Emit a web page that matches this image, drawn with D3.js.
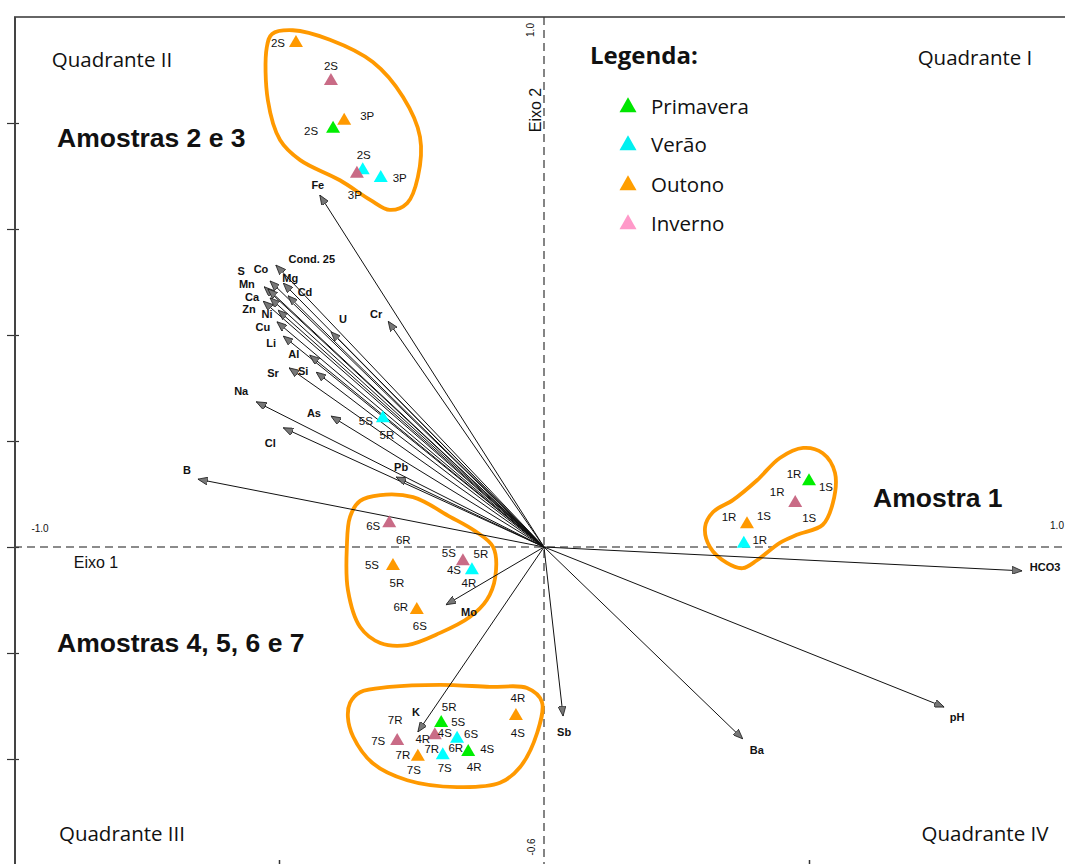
<!DOCTYPE html>
<html>
<head>
<meta charset="utf-8">
<script src="https://cdn.jsdelivr.net/npm/d3@7/dist/d3.min.js"></script>
<style>
  html, body { margin: 0; padding: 0; background: #fff; }
  svg { display: block; }
</style>
</head>
<body>
<svg id="chart" width="1065" height="864"></svg>
<script>
// ---- Data -------------------------------------------------------------
// Seasons (legend order)
const seasons = ["Primavera", "Verão", "Outono", "Inverno"];

// Variable loadings on Eixo 1 / Eixo 2
const variables = ["Fe", "Cond. 25", "Co", "Mg", "S", "Mn", "Cd", "Ca", "Zn", "Ni", "Cu", "Li",
  "Al", "Sr", "Si", "Na", "As", "Cl", "B", "U", "Cr", "Pb", "Mo", "K", "Sb", "Ba", "pH", "HCO3"];
const loadX = [-0.423, -0.506, -0.517, -0.492, -0.528, -0.521, -0.483, -0.530, -0.517, -0.502, -0.504, -0.492,
  -0.442, -0.481, -0.430, -0.543, -0.402, -0.492, -0.653, -0.402, -0.294, -0.279, -0.185, -0.238, 0.036, 0.375, 0.755, 0.902];
const loadY = [0.664, 0.532, 0.502, 0.498, 0.491, 0.487, 0.474, 0.464, 0.470, 0.447, 0.425, 0.398,
  0.362, 0.338, 0.330, 0.274, 0.247, 0.225, 0.128, 0.406, 0.426, 0.132, -0.109, -0.349, -0.319, -0.362, -0.302, -0.045];

// Sample scores (season index into `seasons`)
const sampleSeason = [2, 3, 2, 0, 1, 3, 1,
  1, 3, 3, 1, 2, 2,
  0, 3, 2, 1,
  2, 0, 3, 3, 1, 0, 1, 2];
const sampleX = [-0.468, -0.402, -0.377, -0.398, -0.342, -0.353, -0.308,
  -0.304, -0.292, -0.153, -0.136, -0.285, -0.240,
  0.500, 0.474, 0.383, 0.377,
  -0.053, -0.194, -0.206, -0.277, -0.164, -0.143, -0.191, -0.238];
const sampleY = [0.953, 0.881, 0.806, 0.791, 0.713, 0.706, 0.698,
  0.245, 0.047, -0.025, -0.042, -0.034, -0.117,
  0.126, 0.085, 0.045, 0.008,
  -0.317, -0.330, -0.353, -0.364, -0.360, -0.385, -0.391, -0.394];
// Sample codes written next to each score
const sampleTags = [["2S"], ["2S"], ["3P"], ["2S"], ["2S"], ["3P"], ["3P"],
  ["5S", "5R"], ["6S", "6R"], ["5S", "5R"], ["4S", "4R"], ["5S", "5R"], ["6R", "6S"],
  ["1R", "1S"], ["1R", "1S"], ["1R", "1S"], ["1R"],
  ["4R", "4S"], ["5R", "5S"], ["4S", "4R"], ["7R", "7S"], ["6S"], ["4S", "4R"], ["7R", "6R", "7S"], ["7R", "7S"]];

// Group outlines (closed curves in Eixo 1 / Eixo 2 units)
const hullTop = [[-0.523, 0.943], [-0.513, 0.968], [-0.474, 0.975], [-0.404, 0.957], [-0.323, 0.915],
  [-0.266, 0.849], [-0.234, 0.774], [-0.238, 0.698], [-0.258, 0.649], [-0.291, 0.636], [-0.328, 0.655],
  [-0.385, 0.692], [-0.460, 0.730], [-0.498, 0.768], [-0.521, 0.843]];
const hullMid = [[-0.366, 0.057], [-0.347, 0.087], [-0.309, 0.098], [-0.247, 0.094], [-0.177, 0.057],
  [-0.130, 0.030], [-0.096, 0.000], [-0.092, -0.057], [-0.108, -0.100], [-0.140, -0.132], [-0.196, -0.162],
  [-0.258, -0.185], [-0.309, -0.181], [-0.347, -0.151], [-0.370, -0.081], [-0.372, 0.000]];
const hullRight = [[0.489, 0.187], [0.526, 0.177], [0.549, 0.140], [0.545, 0.083], [0.526, 0.042],
  [0.477, 0.023], [0.445, 0.008], [0.402, -0.025], [0.375, -0.040], [0.345, -0.030], [0.313, 0.000],
  [0.304, 0.038], [0.319, 0.066], [0.357, 0.089], [0.402, 0.126], [0.445, 0.168]];
const hullBottom = [[-0.366, -0.294], [-0.347, -0.274], [-0.291, -0.264], [-0.196, -0.260], [-0.102, -0.264],
  [-0.032, -0.266], [-0.004, -0.292], [-0.013, -0.351], [-0.045, -0.415], [-0.083, -0.445], [-0.164, -0.453],
  [-0.258, -0.440], [-0.323, -0.408], [-0.360, -0.358], [-0.370, -0.321]];

// Axis ticks
const yTicks = [0.8, 0.6, 0.4, 0.2, 0, -0.2, -0.4];
const xTicks = [-0.5, 0.5];

// ---- Layout / style -----------------------------------------------------
const plotColors = ["#00ee00", "#00ffff", "#ff9900", "#c96b86"];
const legendColors = ["#00e600", "#00f0f0", "#ff9e00", "#ff99c9"];

// label offsets (px) from arrow tips, same order as `variables`
const varLabelOffset = [[-2, -10], [36, -6], [-9, -12], [7, -5], [-23, -16], [-21, -5], [17, -4], [-11, -4],
  [-21, 11], [-11, 4], [-14, 5], [-12, 7], [-16, -1], [-16, 5], [-13, -1], [-15, -11], [-17, -3], [-13, 15],
  [-11, -9], [12, -13], [-12, -7], [5, -10], [23, 7], [-2, -20], [1, 16], [14, 11], [13, 10], [23, -4]];
// label offsets (px) from sample centres, same shape as `sampleTags`
const sampleTagOffset = [[[-18, 1]], [[0, -14]], [[23, -4]], [[-22, 3]], [[1, -14]], [[-2, 22]], [[19, 1]],
  [[-17, 4], [4, 18]], [[-16, 4], [14, 18]], [[-14, -7], [18, -6]], [[-18, 1], [-3, 14]], [[-21, 0], [4, 18]], [[-16, -2], [3, 17]],
  [[-15, -6], [17, 7]], [[-18, -10], [14, 16]], [[-18, -6], [17, -7]], [[16, -3]],
  [[2, -17], [2, 18]], [[8, -15], [17, 0]], [[10, -1], [-12, 5]], [[-2, -20], [-19, 1]], [[14, -4]],
  [[19, -2], [6, 16]], [[-11, -5], [13, -6], [2, 14]], [[-15, -1], [-4, 14]]];

const W = 1065, H = 864;
const svg = d3.select("#chart");

const x = d3.scaleLinear().domain([-1, 1]).range([14, 1074]);
const y = d3.scaleLinear().domain([-0.6, 1.0]).range([865, 17]);

const sans = "'Liberation Sans', Arial, Helvetica, sans-serif";
const myriad = "'Open Sans', 'Noto Sans', sans-serif";

// ---- Frame & axes -------------------------------------------------------
// dashed zero lines
svg.append("line")
  .attr("x1", x(-1)).attr("x2", W).attr("y1", y(0)).attr("y2", y(0))
  .attr("stroke", "#666").attr("stroke-width", 1.6).attr("stroke-dasharray", "8,5");
svg.append("line")
  .attr("x1", x(0)).attr("x2", x(0)).attr("y1", y(1)).attr("y2", H)
  .attr("stroke", "#666").attr("stroke-width", 1.6).attr("stroke-dasharray", "8,5");

// top border
svg.append("line")
  .attr("x1", x(-1)).attr("x2", W).attr("y1", y(1)).attr("y2", y(1))
  .attr("stroke", "#333").attr("stroke-width", 1.5);

// left axis with ticks crossing the line
const yAxis = svg.append("g")
  .attr("transform", `translate(${x(-1) + 1},0)`)
  .call(d3.axisLeft(y).tickValues(yTicks).tickSize(8).tickFormat(""));
yAxis.select(".domain").remove();
yAxis.selectAll(".tick line").attr("x1", 4).attr("stroke", "#333").attr("stroke-width", 1.2);
svg.append("line")
  .attr("x1", x(-1) + 1).attr("x2", x(-1) + 1).attr("y1", y(1)).attr("y2", H)
  .attr("stroke", "#444").attr("stroke-width", 2);

// bottom ticks
const xAxis = svg.append("g")
  .attr("transform", `translate(0,${H})`)
  .call(d3.axisTop(x).tickValues(xTicks).tickSize(4).tickFormat(""));
xAxis.select(".domain").remove();
xAxis.selectAll(".tick line").attr("stroke", "#333").attr("stroke-width", 1.5);

// axis captions
svg.append("text").text("Eixo 1")
  .attr("x", 96).attr("y", y(0) + 21).attr("text-anchor", "middle")
  .attr("font-family", sans).attr("font-size", 16).attr("fill", "#111");
svg.append("text").text("-1.0")
  .attr("x", 40).attr("y", y(0) - 15).attr("text-anchor", "middle")
  .attr("font-family", sans).attr("font-size", 10).attr("fill", "#111");
svg.append("text").text("1.0")
  .attr("x", 1057).attr("y", y(0) - 18).attr("text-anchor", "middle")
  .attr("font-family", sans).attr("font-size", 10).attr("fill", "#111");
svg.append("text").text("Eixo 2")
  .attr("transform", `translate(${x(0) - 3},110) rotate(-90)`).attr("text-anchor", "middle")
  .attr("font-family", sans).attr("font-size", 16).attr("fill", "#111");
svg.append("text").text("1.0")
  .attr("transform", `translate(${x(0) - 10},30) rotate(-90)`).attr("text-anchor", "middle")
  .attr("font-family", sans).attr("font-size", 10).attr("fill", "#111");
svg.append("text").text("-0.6")
  .attr("transform", `translate(${x(0) - 9},847) rotate(-90)`).attr("text-anchor", "middle")
  .attr("font-family", sans).attr("font-size", 10).attr("fill", "#111");

// quadrant names
const quadrants = [["Quadrante II", 112, 67], ["Quadrante I", 975, 65], ["Quadrante III", 122, 841], ["Quadrante IV", 985, 841]];
svg.selectAll("text.quad").data(quadrants).join("text")
  .attr("class", "quad").text(d => d[0])
  .attr("x", d => d[1]).attr("y", d => d[2]).attr("text-anchor", "middle")
  .attr("font-family", myriad).attr("font-size", 20.5).attr("fill", "#111");

// ---- Group outlines -----------------------------------------------------
const hullLine = d3.line().x(d => x(d[0])).y(d => y(d[1])).curve(d3.curveCatmullRomClosed.alpha(0.5));
svg.append("g").selectAll("path").data([hullTop, hullMid, hullRight, hullBottom]).join("path")
  .attr("d", hullLine).attr("fill", "none").attr("stroke", "#ff9900").attr("stroke-width", 3.8);

// ---- Loading vectors ----------------------------------------------------
svg.append("defs").append("marker")
  .attr("id", "head").attr("viewBox", "0 0 10 8").attr("refX", 10).attr("refY", 4)
  .attr("markerWidth", 10).attr("markerHeight", 8).attr("markerUnits", "userSpaceOnUse")
  .attr("orient", "auto")
  .append("path").attr("d", "M0,0 L10,4 L0,8 Z")
  .attr("fill", "#777").attr("stroke", "#222").attr("stroke-width", 0.8);

const vecG = svg.append("g");
vecG.selectAll("line").data(variables).join("line")
  .attr("x1", x(0)).attr("y1", y(0))
  .attr("x2", (d, i) => x(loadX[i])).attr("y2", (d, i) => y(loadY[i]))
  .attr("stroke", "#111").attr("stroke-width", 1)
  .attr("marker-end", "url(#head)");
vecG.selectAll("text").data(variables).join("text")
  .text(d => d)
  .attr("x", (d, i) => x(loadX[i]) + varLabelOffset[i][0])
  .attr("y", (d, i) => y(loadY[i]) + varLabelOffset[i][1])
  .attr("text-anchor", "middle").attr("dominant-baseline", "central")
  .attr("font-family", sans).attr("font-weight", "bold").attr("font-size", 11).attr("fill", "#111");

// ---- Sample scores ------------------------------------------------------
const tri = (cx, cy, w, h) => `M${cx},${cy - h * 0.58} L${cx + w / 2},${cy + h * 0.42} L${cx - w / 2},${cy + h * 0.42} Z`;
const ptG = svg.append("g");
ptG.selectAll("path").data(sampleSeason).join("path")
  .attr("d", (s, i) => tri(x(sampleX[i]), y(sampleY[i]), 14, 12))
  .attr("fill", s => plotColors[s]);

const tagData = [];
sampleTags.forEach((tags, i) => tags.forEach((t, j) => tagData.push({
  t, px: x(sampleX[i]) + sampleTagOffset[i][j][0], py: y(sampleY[i]) + sampleTagOffset[i][j][1]
})));
ptG.selectAll("text").data(tagData).join("text")
  .text(d => d.t).attr("x", d => d.px).attr("y", d => d.py)
  .attr("text-anchor", "middle").attr("dominant-baseline", "central")
  .attr("font-family", sans).attr("font-size", 11.5).attr("fill", "#111");

// ---- Group titles -------------------------------------------------------
const groups = [["Amostras 2 e 3", 57, 147, "start"], ["Amostra 1", 873, 507, "start"], ["Amostras 4, 5, 6 e 7", 57, 652, "start"]];
svg.selectAll("text.grp").data(groups).join("text")
  .attr("class", "grp").text(d => d[0])
  .attr("x", d => d[1]).attr("y", d => d[2]).attr("text-anchor", d => d[3])
  .attr("font-family", sans).attr("font-weight", "bold").attr("font-size", 26.5).attr("fill", "#111");

// ---- Legend -------------------------------------------------------------
const leg = svg.append("g");
leg.append("text").text("Legenda:")
  .attr("x", 590).attr("y", 64)
  .attr("font-family", myriad).attr("font-weight", "bold").attr("font-size", 24).attr("fill", "#111");
const legY = [106, 144, 184, 223];
leg.selectAll("path").data(seasons).join("path")
  .attr("d", (d, i) => tri(628, legY[i], 17, 15))
  .attr("fill", (d, i) => legendColors[i]);
leg.selectAll("text.item").data(seasons).join("text")
  .attr("class", "item").text(d => d)
  .attr("x", 651).attr("y", (d, i) => legY[i])
  .attr("dominant-baseline", "central")
  .attr("font-family", myriad).attr("font-size", 20.5).attr("fill", "#111");
</script>
</body>
</html>
